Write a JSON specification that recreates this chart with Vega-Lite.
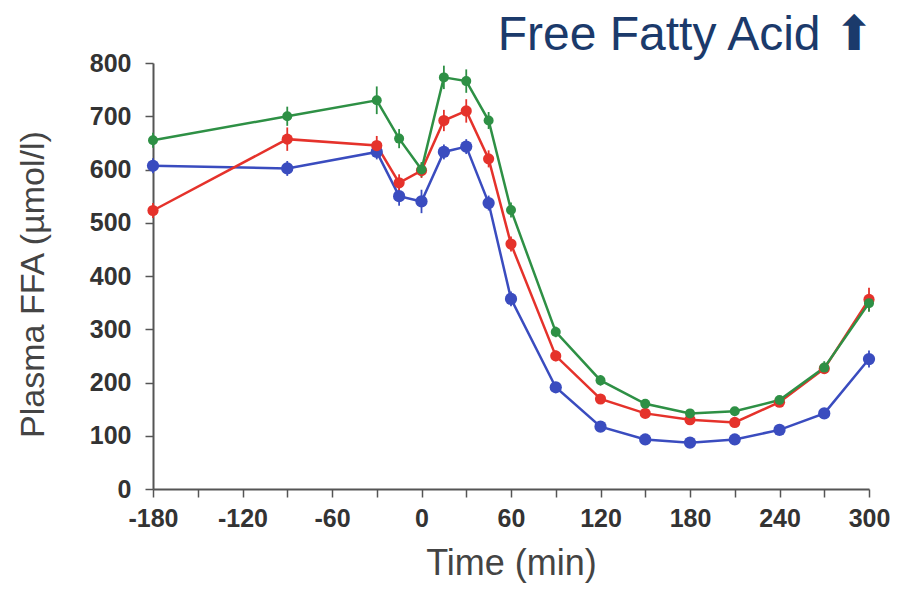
{
  "$schema": "https://vega.github.io/schema/vega-lite/v6.json",
  "width": 716,
  "height": 426,
  "autosize": {"type": "none"},
  "padding": {"left": 153, "top": 63, "right": 30, "bottom": 100},
  "background": "white",
  "title": {
    "text": "Free Fatty Acid ⬆",
    "anchor": "end",
    "font": "Liberation Sans",
    "fontSize": 48,
    "fontWeight": "normal",
    "color": "#1b3a6b",
    "offset": -9,
    "dx": -16
  },
  "config": {
    "view": {"stroke": null},
    "font": "Liberation Sans",
    "axis": {
      "grid": false,
      "domainColor": "#555555",
      "domainWidth": 2,
      "tickColor": "#555555",
      "tickWidth": 1.5,
      "tickSize": 8,
      "labelFont": "Liberation Sans",
      "labelFontWeight": "bold",
      "labelFontSize": 25,
      "labelColor": "#333333",
      "titleFont": "Liberation Sans",
      "titleFontWeight": "normal",
      "titleColor": "#444444"
    }
  },
  "data": {
    "values": [
      {"t": -180, "group": "A", "ffa": 607, "se": 14},
      {"t": -90, "group": "A", "ffa": 602, "se": 14},
      {"t": -30, "group": "A", "ffa": 633, "se": 14},
      {"t": -15, "group": "A", "ffa": 550, "se": 18},
      {"t": 0, "group": "A", "ffa": 540, "se": 22},
      {"t": 15, "group": "A", "ffa": 633, "se": 14},
      {"t": 30, "group": "A", "ffa": 643, "se": 14},
      {"t": 45, "group": "A", "ffa": 537, "se": 14},
      {"t": 60, "group": "A", "ffa": 357, "se": 14},
      {"t": 90, "group": "A", "ffa": 191, "se": 10},
      {"t": 120, "group": "A", "ffa": 117, "se": 8},
      {"t": 150, "group": "A", "ffa": 93, "se": 8},
      {"t": 180, "group": "A", "ffa": 87, "se": 8},
      {"t": 210, "group": "A", "ffa": 93, "se": 8},
      {"t": 240, "group": "A", "ffa": 111, "se": 8},
      {"t": 270, "group": "A", "ffa": 142, "se": 10},
      {"t": 300, "group": "A", "ffa": 244, "se": 16},
      {"t": -180, "group": "B", "ffa": 523, "se": 14},
      {"t": -90, "group": "B", "ffa": 657, "se": 22},
      {"t": -30, "group": "B", "ffa": 645, "se": 18},
      {"t": -15, "group": "B", "ffa": 575, "se": 16},
      {"t": 0, "group": "B", "ffa": 598, "se": 14},
      {"t": 15, "group": "B", "ffa": 692, "se": 20},
      {"t": 30, "group": "B", "ffa": 710, "se": 22},
      {"t": 45, "group": "B", "ffa": 620, "se": 16},
      {"t": 60, "group": "B", "ffa": 460, "se": 14},
      {"t": 90, "group": "B", "ffa": 250, "se": 10},
      {"t": 120, "group": "B", "ffa": 169, "se": 8},
      {"t": 150, "group": "B", "ffa": 142, "se": 8},
      {"t": 180, "group": "B", "ffa": 130, "se": 8},
      {"t": 210, "group": "B", "ffa": 125, "se": 8},
      {"t": 240, "group": "B", "ffa": 163, "se": 8},
      {"t": 270, "group": "B", "ffa": 226, "se": 10},
      {"t": 300, "group": "B", "ffa": 356, "se": 22},
      {"t": -180, "group": "C", "ffa": 655, "se": 14},
      {"t": -90, "group": "C", "ffa": 700, "se": 18},
      {"t": -30, "group": "C", "ffa": 730, "se": 26},
      {"t": -15, "group": "C", "ffa": 658, "se": 18},
      {"t": 0, "group": "C", "ffa": 600, "se": 14},
      {"t": 15, "group": "C", "ffa": 773, "se": 22},
      {"t": 30, "group": "C", "ffa": 766, "se": 22},
      {"t": 45, "group": "C", "ffa": 692, "se": 16},
      {"t": 60, "group": "C", "ffa": 524, "se": 14},
      {"t": 90, "group": "C", "ffa": 295, "se": 10},
      {"t": 120, "group": "C", "ffa": 204, "se": 10},
      {"t": 150, "group": "C", "ffa": 160, "se": 8},
      {"t": 180, "group": "C", "ffa": 142, "se": 8},
      {"t": 210, "group": "C", "ffa": 146, "se": 8},
      {"t": 240, "group": "C", "ffa": 167, "se": 8},
      {"t": 270, "group": "C", "ffa": 228, "se": 12},
      {"t": 300, "group": "C", "ffa": 349, "se": 16}
    ]
  },
  "transform": [
    {"calculate": "datum.ffa - datum.se", "as": "lo"},
    {"calculate": "datum.ffa + datum.se", "as": "hi"}
  ],
  "encoding": {
    "x": {
      "field": "t",
      "type": "quantitative",
      "scale": {"domain": [-180, 300], "nice": false, "zero": false},
      "axis": {
        "title": "Time (min)",
        "titleFontSize": 36,
        "titlePadding": 15,
        "labelPadding": 9,
        "values": [-180, -150, -120, -90, -60, -30, 0, 30, 60, 90, 120, 150, 180, 210, 240, 270, 300],
        "labelExpr": "datum.value % 60 == 0 ? '' + datum.value : ''",
        "labelFlush": false
      }
    },
    "color": {
      "field": "group",
      "type": "nominal",
      "scale": {"domain": ["A", "B", "C"], "range": ["#3a4cbf", "#e5322b", "#2e9045"]},
      "legend": null
    }
  },
  "layer": [
    {
      "mark": {"type": "rule", "strokeWidth": 1.8},
      "encoding": {
        "y": {"field": "lo", "type": "quantitative"},
        "y2": {"field": "hi"}
      }
    },
    {
      "mark": {"type": "line", "strokeWidth": 2.5},
      "encoding": {
        "y": {
          "field": "ffa",
          "type": "quantitative",
          "scale": {"domain": [0, 800], "nice": false},
          "axis": {
            "title": "Plasma FFA (µmol/l)",
            "titleFontSize": 34,
            "titlePadding": 39,
            "titleY": 221,
            "labelPadding": 14,
            "values": [0, 50, 100, 150, 200, 250, 300, 350, 400, 450, 500, 550, 600, 650, 700, 750, 800],
            "labelExpr": "datum.value % 100 == 0 ? '' + datum.value : ''"
          }
        }
      }
    },
    {
      "mark": {"type": "point", "filled": true, "opacity": 1},
      "encoding": {
        "y": {"field": "ffa", "type": "quantitative"},
        "size": {
          "field": "group",
          "type": "nominal",
          "scale": {"domain": ["A", "B", "C"], "range": [150, 100, 100]},
          "legend": null
        }
      }
    }
  ]
}
